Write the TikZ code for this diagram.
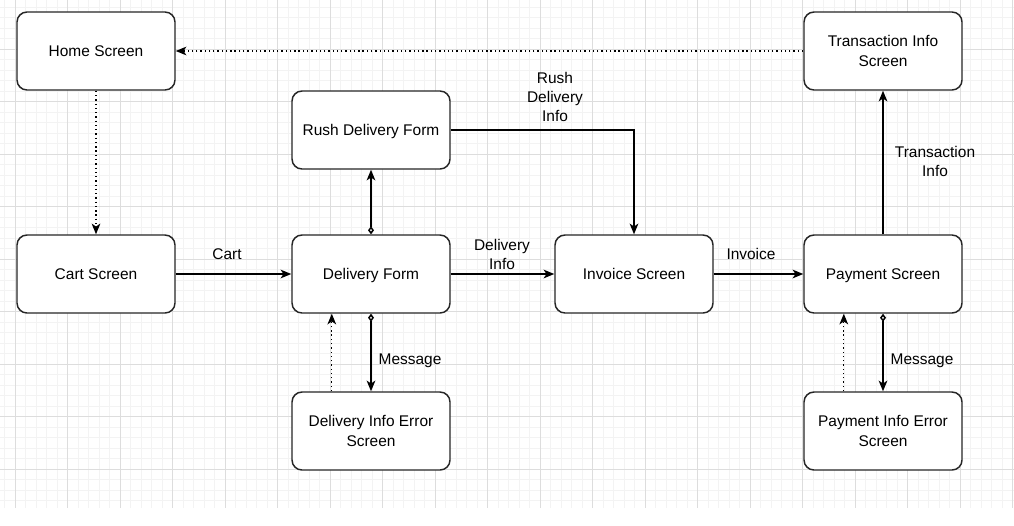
\documentclass[tikz,border=0pt]{standalone}
\usepackage{fontspec}
\setmainfont{Liberation Sans}
\usetikzlibrary{arrows.meta,calc}
\definecolor{gridminor}{HTML}{F3F3F3}
\definecolor{gridmajor}{HTML}{DDDDDD}
\begin{document}
\begin{tikzpicture}[x=0.75pt,y=-0.75pt,
  screen/.style={draw=black!85, line width=1.1pt, fill=white, rounded corners=7.5pt,
    minimum width=118.5pt, minimum height=58.5pt, align=center, inner sep=2pt, text depth=0pt,
    font=\fontsize{11.6}{14.5}\selectfont},
  lbl/.style={align=center, inner sep=0pt, text depth=0pt, font=\fontsize{11.6}{14.5}\selectfont},
  flow/.style={line width=1.1pt, -{Stealth[length=8pt,width=6.5pt,inset=2.2pt]}},
  dia/.style={{Diamond[open,length=6pt,width=4.5pt,fill=white]}-{Stealth[length=8pt,width=6.5pt,inset=2.2pt]}, line width=1.1pt},
  dots/.style={line width=0.9pt, dash pattern=on 1pt off 2.2pt, -{Stealth[length=8pt,width=6.5pt,inset=2.2pt]}}
]
\useasboundingbox (0,0) rectangle (1014,525);
\fill[white] (0,0) rectangle (1014,525);
% grid
\foreach \i in {0,...,96} {\draw[gridminor, line width=0.6pt] ({4.8+10.5*\i},0) -- ({4.8+10.5*\i},508);}
\foreach \j in {1,...,48} {\draw[gridminor, line width=0.6pt] (0,{-3.2+10.5*\j}) -- (1014,{-3.2+10.5*\j});}
\foreach \i in {0,...,19} {\draw[gridmajor, line width=0.75pt] ({15.3+52.5*\i},0) -- ({15.3+52.5*\i},508);}
\foreach \j in {1,...,9} {\draw[gridmajor, line width=0.75pt] (0,{-3.2+52.5*\j}) -- (1014,{-3.2+52.5*\j});}

% nodes
\node[screen] (home) at (96,51) {Home Screen};
\node[screen] (cart) at (96,274) {Cart Screen};
\node[screen] (df) at (371,274) {Delivery Form};
\node[screen] (rush) at (371,130) {Rush Delivery Form};
\node[screen] (die) at (371,431) {Delivery Info Error\\Screen};
\node[screen] (inv) at (634,274) {Invoice Screen};
\node[screen] (pay) at (883,274) {Payment Screen};
\node[screen] (trans) at (883,51) {Transaction Info\\Screen};
\node[screen] (pie) at (883,431) {Payment Info Error\\Screen};

% connectors
\draw[dots] (home) -- (cart);
\draw[dots] (trans) -- (home);
\draw[flow] (cart) -- (df);
\draw[flow] (df) -- (inv);
\draw[flow] (inv) -- (pay);
\draw[flow] (pay) -- (trans);
\draw[dia] (df) -- (rush);
\draw[flow] (rush.east) -| (inv.north);
\draw[dia] (df) -- (die);
\draw[dia] (pay) -- (pie);
\draw[dots] ([xshift=-29.4pt]die.north) -- ([xshift=-29.4pt]df.south);
\draw[dots] ([xshift=-29.4pt]pie.north) -- ([xshift=-29.4pt]pay.south);

% labels
\node[lbl] (lcart) at (227,254) {Cart};
\node[lbl] (ldi) at (502,254.5) {Delivery\\Info};
\node[lbl] (lrush) at (555,97) {Rush\\Delivery\\Info};
\node[lbl] (linv) at (751,254) {Invoice};
\node[lbl] (ltr) at (935,161.5) {Transaction\\Info};
\node[lbl] (lm1) at (410,359) {Message};
\node[lbl] (lm2) at (922,359) {Message};
\end{tikzpicture}
\end{document}
